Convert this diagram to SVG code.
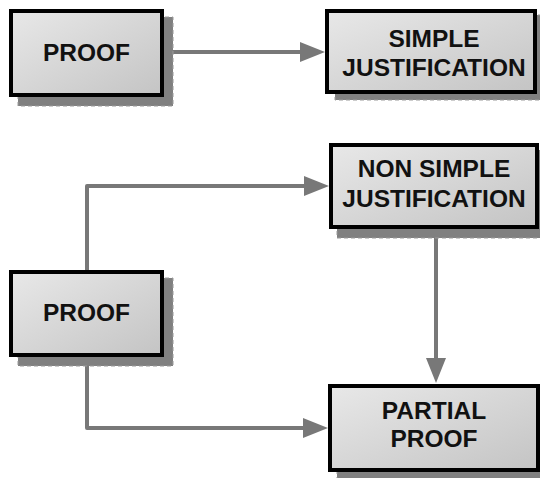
<svg xmlns="http://www.w3.org/2000/svg" width="540" height="478" viewBox="0 0 540 478">
  <defs>
    <linearGradient id="boxFill" x1="0" y1="0" x2="1" y2="1">
      <stop offset="0" stop-color="#e8e8e8"/>
      <stop offset="1" stop-color="#c4c4c4"/>
    </linearGradient>
    <marker id="arrow" markerUnits="userSpaceOnUse" markerWidth="25" markerHeight="20" refX="0" refY="10" orient="auto">
      <path d="M0,0 L25,10 L0,20 z" fill="#787878"/>
    </marker>
  </defs>
  <style>
    .shadow { fill: #808080; stroke: #9a9a9a; stroke-width: 1; stroke-dasharray: 4 3; }
    .box { fill: url(#boxFill); stroke: #000; stroke-width: 4; }
    .label { font-family: "Liberation Sans", Arial, sans-serif; font-weight: bold; font-size: 24.5px; fill: #111; text-anchor: middle; }
    .conn { fill: none; stroke: #787878; stroke-width: 4; stroke-linejoin: round; }
  </style>
  <rect width="540" height="478" fill="#fff"/>

  <!-- connectors -->
  <g id="connectors">
    <path class="conn" d="M164,52 H300" marker-end="url(#arrow)"/>
    <path class="conn" d="M87,270 V186 H304" marker-end="url(#arrow)"/>
    <path class="conn" d="M87,357 V428 H303" marker-end="url(#arrow)"/>
    <path class="conn" d="M436,229 V358" marker-end="url(#arrow)"/>
  </g>

  <g id="proof-top">
    <rect class="shadow" x="18" y="17" width="155" height="89"/>
    <rect class="box" x="11" y="11" width="151" height="84"/>
    <text class="label" x="86.5" y="61">PROOF</text>
  </g>

  <g id="simple-justification">
    <rect class="shadow" x="335" y="15" width="210" height="85"/>
    <rect class="box" x="327" y="11" width="208" height="81"/>
    <text class="label" x="434" y="47">SIMPLE</text>
    <text class="label" x="434" y="76">JUSTIFICATION</text>
  </g>

  <g id="non-simple-justification">
    <rect class="shadow" x="337" y="150" width="210" height="88"/>
    <rect class="box" x="331" y="145" width="206" height="82"/>
    <text class="label" x="434" y="177">NON SIMPLE</text>
    <text class="label" x="434" y="207">JUSTIFICATION</text>
  </g>

  <g id="proof-bottom">
    <rect class="shadow" x="18" y="278" width="155" height="88"/>
    <rect class="box" x="11" y="272" width="151" height="83"/>
    <text class="label" x="86.5" y="321">PROOF</text>
  </g>

  <g id="partial-proof">
    <rect class="shadow" x="337" y="392" width="210" height="90"/>
    <rect class="box" x="330" y="386" width="208" height="84"/>
    <text class="label" x="434" y="419">PARTIAL</text>
    <text class="label" x="434" y="447">PROOF</text>
  </g>
</svg>
